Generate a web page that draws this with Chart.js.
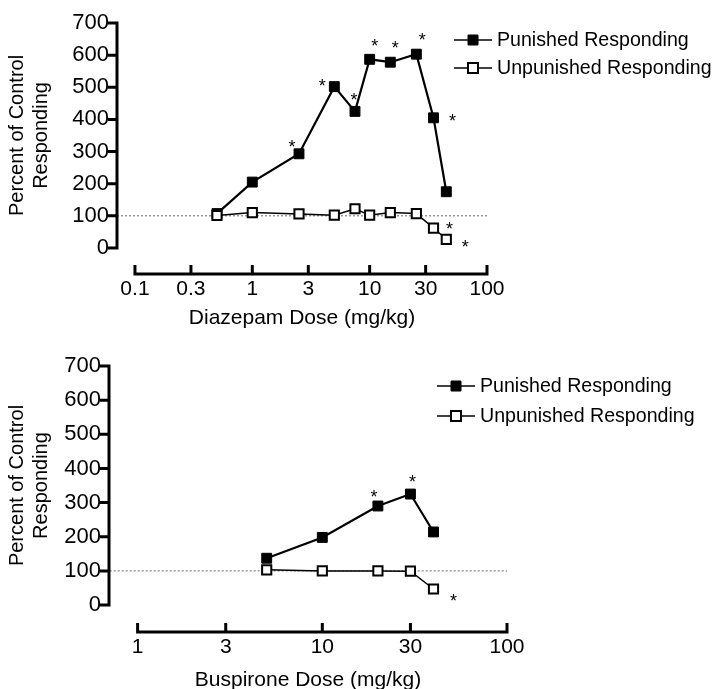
<!DOCTYPE html>
<html>
<head>
<meta charset="utf-8">
<title>Diazepam / Buspirone dose response</title>
<script src="https://cdn.jsdelivr.net/npm/chart.js@4/dist/chart.umd.min.js"></script>
<style>
    body { margin: 0; background: #fff; }
    .panel { position: absolute; left: 0; width: 715px; }
    #topPanel { top: 0; height: 345px; }
    #bottomPanel { top: 345px; height: 344px; }
</style>
</head>
<body>
<div class="panel" id="topPanel"><canvas id="diazepamChart"></canvas></div>
<div class="panel" id="bottomPanel"><canvas id="buspironeChart"></canvas></div>
<script>
// ============== DATA ==============

// Diazepam (top panel)
const diazepamDoses = [0.5, 1, 2.5, 5, 7.5, 10, 15, 25, 35, 45];
const diazepamPunished = [107, 205, 293, 502, 425, 587, 578, 603, 405, 175];
const diazepamUnpunished = [101, 110, 106, 102, 122, 102, 110, 107, 62, 27];
const diazepamTicks = [0.1, 0.3, 1, 3, 10, 30, 100];
// significant points: [series, index]  (p = punished, u = unpunished)
const diazepamStars = [['p', 2], ['p', 3], ['p', 4], ['p', 5], ['p', 6], ['p', 7], ['p', 8], ['u', 8], ['u', 9]];

// Buspirone (bottom panel)
const buspironeDoses = [5, 10, 20, 30, 40];
const buspironePunished = [137, 198, 290, 325, 214];
const buspironeUnpunished = [103, 100, 100, 99, 47];
const buspironeTicks = [1, 3, 10, 30, 100];
const buspironeStars = [['p', 2], ['p', 3], ['u', 4]];

const yTicks = [0, 100, 200, 300, 400, 500, 600, 700];
const controlLevel = 100;
const yTitle = ['Percent of Control', 'Responding'];
const seriesLabels = ['Punished Responding', 'Unpunished Responding'];

const FONT = '"Liberation Sans", Arial, Helvetica, sans-serif';
Chart.defaults.font.family = FONT;
Chart.defaults.color = '#000';

// ============== DRAWING HELPERS ==============

function drawMarker(ctx, cx, cy, filled) {
    const s = 10;
    ctx.beginPath();
    ctx.rect(cx - s / 2, cy - s / 2, s, s);
    ctx.fillStyle = filled ? '#000' : '#fff';
    ctx.fill();
    ctx.lineWidth = filled ? 1 : 2;
    ctx.strokeStyle = '#000';
    ctx.stroke();
}

// axes, y title, legend and asterisks
const figurePlugin = {
    id: 'figure',
    afterDraw(chart, args, opts) {
        const ctx = chart.ctx;
        const xs = chart.scales.x;
        const ys = chart.scales.y;
        const area = chart.chartArea;
        ctx.save();
        ctx.strokeStyle = '#000';
        ctx.fillStyle = '#000';
        ctx.lineWidth = 3;

        // y axis line with ticks pointing left
        ctx.beginPath();
        ctx.moveTo(area.left, ys.getPixelForValue(yTicks[0]) + 1.5);
        ctx.lineTo(area.left, ys.getPixelForValue(yTicks[yTicks.length - 1]) - 1.5);
        yTicks.forEach(v => {
            const py = ys.getPixelForValue(v);
            ctx.moveTo(area.left - 9, py);
            ctx.lineTo(area.left, py);
        });
        ctx.stroke();

        // detached x axis with ticks pointing up
        const ticks = opts.xTicks;
        ctx.beginPath();
        ctx.moveTo(xs.getPixelForValue(ticks[0]) - 1.5, area.bottom);
        ctx.lineTo(xs.getPixelForValue(ticks[ticks.length - 1]) + 1.5, area.bottom);
        ticks.forEach(v => {
            const px = xs.getPixelForValue(v);
            ctx.moveTo(px, area.bottom);
            ctx.lineTo(px, area.bottom - 9);
        });
        ctx.stroke();

        // y title, two lines rotated
        ctx.save();
        ctx.font = '20px ' + FONT;
        ctx.textAlign = 'center';
        ctx.textBaseline = 'middle';
        ctx.translate(opts.yTitleX, ys.getPixelForValue(350));
        ctx.rotate(-Math.PI / 2);
        yTitle.forEach((line, i) => ctx.fillText(line, 0, i * 24));
        ctx.restore();

        // legend
        const lg = opts.legend;
        ctx.font = '19.6px ' + FONT;
        ctx.textAlign = 'left';
        ctx.textBaseline = 'middle';
        seriesLabels.forEach((label, i) => {
            const ly = lg.y + i * lg.dy;
            ctx.beginPath();
            ctx.lineWidth = 1.5;
            ctx.strokeStyle = '#000';
            ctx.moveTo(lg.x, ly);
            ctx.lineTo(lg.x + 38, ly);
            ctx.stroke();
            drawMarker(ctx, lg.x + 19, ly, i === 0);
            ctx.fillStyle = '#000';
            ctx.fillText(label, lg.x + 43, ly + 1);
        });

        // asterisks next to significant points
        ctx.font = '18px ' + FONT;
        ctx.textAlign = 'center';
        ctx.textBaseline = 'alphabetic';
        opts.stars.forEach(([series, idx], k) => {
            const meta = chart.getDatasetMeta(series === 'p' ? 0 : 1);
            const pt = meta.data[idx];
            const [dx, dy] = opts.starOffsets[k];
            ctx.fillText('*', pt.x + dx, pt.y + dy + 18 * 0.55);
        });
        ctx.restore();
    }
};

// ============== CHART BUILDER ==============

function makeChart(canvasId, doses, punished, unpunished, xTicks, xTitle, stars, lay) {
    const ctx = document.getElementById(canvasId).getContext('2d');
    const toPoints = vals => doses.map((d, i) => ({ x: d, y: vals[i] }));

    return new Chart(ctx, {
        type: 'line',
        data: {
            datasets: [
                {
                    label: seriesLabels[0],
                    data: toPoints(punished),
                    borderColor: '#000',
                    borderWidth: 2.2,
                    pointStyle: 'rect',
                    pointRadius: 7,
                    pointBackgroundColor: '#000',
                    pointBorderColor: '#000',
                    pointBorderWidth: 1,
                    tension: 0,
                    order: 1
                },
                {
                    label: seriesLabels[1],
                    data: toPoints(unpunished),
                    borderColor: '#000',
                    borderWidth: 1.5,
                    pointStyle: 'rect',
                    pointRadius: 6.5,
                    pointBackgroundColor: '#fff',
                    pointBorderColor: '#000',
                    pointBorderWidth: 2,
                    tension: 0,
                    order: 0
                },
                {
                    // dotted control line at 100%
                    label: 'control',
                    data: [{ x: lay.xMin, y: controlLevel }, { x: xTicks[xTicks.length - 1], y: controlLevel }],
                    borderColor: '#666',
                    borderWidth: 1,
                    borderDash: [2, 2],
                    pointRadius: 0,
                    order: 2
                }
            ]
        },
        options: {
            responsive: true,
            maintainAspectRatio: false,
            animation: false,
            events: [],
            layout: {
                padding: { top: lay.padTop, right: lay.padRight, left: 0, bottom: 0 }
            },
            plugins: {
                legend: { display: false },
                tooltip: { enabled: false },
                figure: {
                    xTicks: xTicks,
                    stars: stars,
                    starOffsets: lay.starOffsets,
                    legend: lay.legend,
                    yTitleX: lay.yTitleX
                }
            },
            scales: {
                x: {
                    type: 'logarithmic',
                    min: lay.xMin,
                    max: xTicks[xTicks.length - 1],
                    grid: { display: false },
                    border: { display: false },
                    afterBuildTicks: s => { s.ticks = xTicks.map(v => ({ value: v })); },
                    afterFit: s => { s.height = lay.xScaleHeight; },
                    ticks: {
                        autoSkip: false,
                        maxRotation: 0,
                        padding: -5,
                        font: { size: 21 },
                        callback: v => String(v)
                    },
                    title: {
                        display: true,
                        text: xTitle,
                        font: { size: 21 },
                        padding: { top: 0, bottom: lay.xTitlePad }
                    }
                },
                y: {
                    type: 'linear',
                    min: lay.yMin,
                    max: 700,
                    grid: { display: false },
                    border: { display: false },
                    afterBuildTicks: s => { s.ticks = yTicks.map(v => ({ value: v })); },
                    afterFit: s => { s.width = lay.yAxisLeft; },
                    ticks: {
                        padding: 0,
                        font: { size: 22 },
                        callback: v => String(v)
                    }
                }
            }
        },
        plugins: [figurePlugin]
    });
}

// ============== INIT ==============

makeChart('diazepamChart', diazepamDoses, diazepamPunished, diazepamUnpunished,
    diazepamTicks, 'Diazepam Dose (mg/kg)', diazepamStars, {
        xMin: 0.0703,
        yMin: -81,
        padTop: 23,
        padRight: 228,
        yAxisLeft: 117,
        xScaleHeight: 71,
        xTitlePad: 14,
        yTitleX: 17,
        legend: { x: 454, y: 40, dy: 28 },
        starOffsets: [[-7, -11], [-12, -5], [-1, -15], [5, -17], [5, -18], [6, -18], [19, -1], [16, -3], [19, 4]]
    });

makeChart('buspironeChart', buspironeDoses, buspironePunished, buspironeUnpunished,
    buspironeTicks, 'Buspirone Dose (mg/kg)', buspironeStars, {
        xMin: 0.706,
        yMin: -79,
        padTop: 21,
        padRight: 208,
        yAxisLeft: 109,
        xScaleHeight: 57,
        xTitlePad: -4,
        yTitleX: 17,
        legend: { x: 437, y: 41, dy: 30 },
        starOffsets: [[-4, -13], [2, -16], [20, 8]]
    });
</script>
</body>
</html>
